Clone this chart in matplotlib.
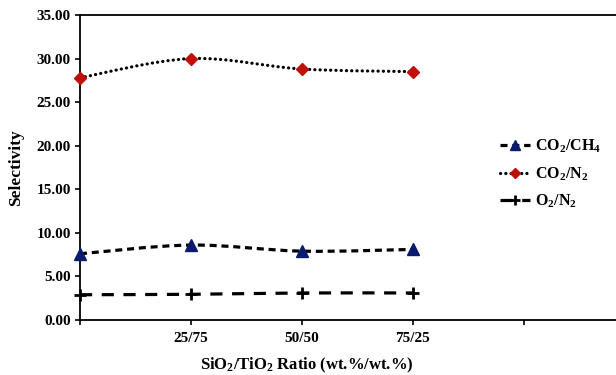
import matplotlib
matplotlib.use("Agg")
import matplotlib.pyplot as plt
from matplotlib.path import Path
from matplotlib.patches import PathPatch
from matplotlib.lines import Line2D
import numpy as np

plt.rcParams['font.family'] = ['Liberation Serif', 'DejaVu Serif']
plt.rcParams['font.weight'] = 'bold'
plt.rcParams['mathtext.fontset'] = 'custom'
plt.rcParams['mathtext.rm'] = 'Liberation Serif:bold'
plt.rcParams['mathtext.it'] = 'Liberation Serif:bold'
plt.rcParams['mathtext.bf'] = 'Liberation Serif:bold'

# Data
ratio_labels = ['', '25/75', '50/50', '75/25', '']
co2_ch4 = [7.6, 8.6, 7.9, 8.1]
co2_n2 = [27.8, 30.0, 28.8, 28.5]
o2_n2 = [2.9, 2.95, 3.1, 3.1]
y_ticks = [0, 5, 10, 15, 20, 25, 30, 35]


def smooth_path(xs, ys):
    """Cubic Bezier through the points (spreadsheet-style smoothed line)."""
    pts = np.column_stack([xs, ys]).astype(float)
    n = len(pts)
    verts = [pts[0]]
    codes = [Path.MOVETO]
    for i in range(n - 1):
        p0 = pts[i - 1] if i > 0 else pts[i]
        p1 = pts[i]
        p2 = pts[i + 1]
        p3 = pts[i + 2] if i + 2 < n else pts[i + 1]
        c1 = p1 + (p2 - p0) / 6.0
        c2 = p2 - (p3 - p1) / 6.0
        verts += [c1, c2, p2]
        codes += [Path.CURVE4] * 3
    return Path(verts, codes)


fig = plt.figure(figsize=(6.16, 3.75), dpi=100)
ax = fig.add_axes([80 / 616, 55 / 375, 1 - 80 / 616, 305 / 375])

x = np.arange(len(co2_ch4))

series = [
    (co2_ch4, dict(linestyle=(0, (2.2, 1.5)), dash_capstyle='butt'),
     dict(marker='^', color='#0a1a6e', ms=8.5), r'CO$_2$/CH$_4$'),
    (co2_n2, dict(linestyle=(0, (0.05, 1.6)), dash_capstyle='round'),
     dict(marker='D', color='#c0100c', ms=6.5), r'CO$_2$/N$_2$'),
    (o2_n2, dict(linestyle=(0, (3.8, 3.0)), dash_capstyle='butt'),
     dict(marker='+', color='black', ms=9), r'O$_2$/N$_2$'),
]

handles = []
for vals, lstyle, mstyle, label in series:
    path = smooth_path(x, vals)
    patch = PathPatch(path, facecolor='none', edgecolor='black', lw=2.3,
                      linestyle=lstyle['linestyle'], clip_on=False)
    patch.set_capstyle(lstyle['dash_capstyle'])
    ax.add_patch(patch)
    extra = dict(mew=2) if mstyle['marker'] == '+' else {}
    ax.plot(x, vals, linestyle='none', marker=mstyle['marker'],
            color=mstyle['color'], ms=mstyle['ms'], clip_on=False, zorder=3, **extra)
    h = Line2D([], [], color='black', lw=2.3, linestyle=lstyle['linestyle'],
               dash_capstyle=lstyle['dash_capstyle'], marker=mstyle['marker'],
               mfc=mstyle['color'], mec=mstyle['color'], ms=mstyle['ms'] * 0.85,
               label=label, **extra)
    handles.append(h)

ax.set_xlim(0, 4.83)
ax.set_ylim(0, 35)
ax.set_xticks(range(len(ratio_labels)))
ax.set_xticklabels(ratio_labels)
ax.set_yticks(y_ticks)
ax.set_yticklabels([f'{v:.2f}' for v in y_ticks])
ax.tick_params(axis='both', direction='out', length=3.5, width=1.2,
               labelsize=11, pad=3)
ax.tick_params(axis='x', pad=5)

for side in ['left', 'bottom', 'top']:
    ax.spines[side].set_linewidth(1.3)
ax.spines['right'].set_visible(False)

ax.set_xlabel(r'SiO$_2$/TiO$_2$ Ratio (wt.%/wt.%)', fontsize=12,
              fontweight='bold')
ax.xaxis.set_label_coords((307 - 80) / 536, -36 / 305)
ax.set_ylabel('Selectivity', fontsize=12.5, fontweight='bold', labelpad=9)

fig.legend(handles=handles, loc='center left', bbox_to_anchor=(492 / 616, 1 - 174 / 375),
           frameon=False, fontsize=11.5, handlelength=1.9, handletextpad=0.3,
           labelspacing=0.65, borderpad=0)

fig.savefig('out.png', dpi=100)
